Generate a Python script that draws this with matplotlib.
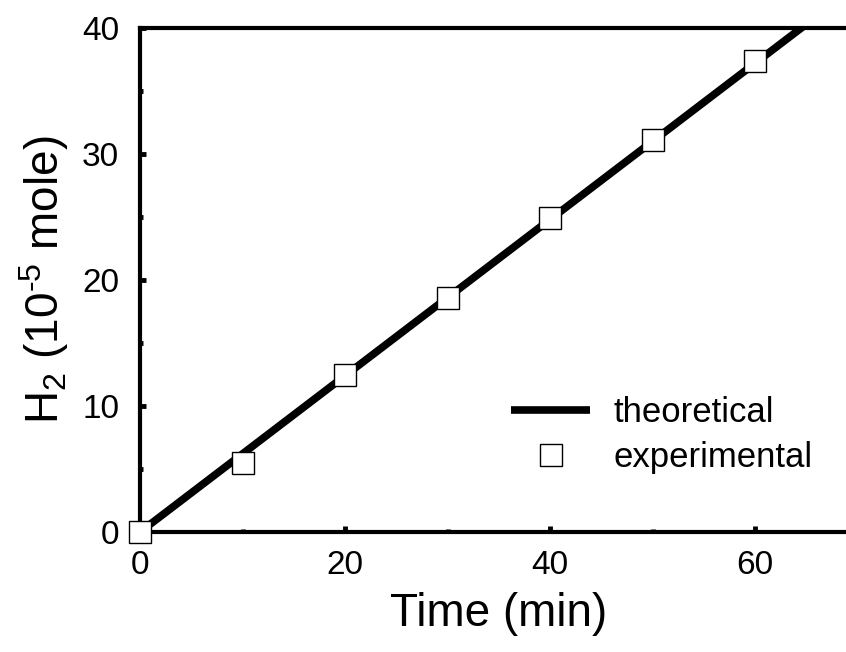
import matplotlib
matplotlib.use("Agg")
import matplotlib.pyplot as plt

time_exp = [0, 10, 20, 30, 40, 50, 60]
h2_exp = [0, 5.5, 12.5, 18.6, 24.9, 31.1, 37.4]

# theoretical straight line (slope ~0.62 per min)
time_theory = [0, 70]
h2_theory = [0, 43.4]

plt.rcParams["font.family"] = ["Liberation Sans", "DejaVu Sans"]
plt.rcParams["mathtext.fontset"] = "custom"
plt.rcParams["mathtext.rm"] = "Liberation Sans"
plt.rcParams["mathtext.default"] = "regular"

fig = plt.figure(figsize=(8.46, 6.52), dpi=100)
ax = fig.add_axes([140 / 846, 1 - 532 / 652, 717.5 / 846, 504 / 652])

ax.plot(time_theory, h2_theory, color="black", lw=5.5, label="theoretical",
        solid_capstyle="butt", zorder=2)
ax.plot(time_exp, h2_exp, ls="none", marker="s", ms=16, mfc="white",
        mec="black", mew=1.0, label="experimental", zorder=3, clip_on=False)

ax.set_xlim(0, 70)
ax.set_ylim(0, 40)
ax.set_xticks([0, 20, 40, 60])
ax.set_xticks([10, 30, 50], minor=True)
ax.set_yticks([0, 10, 20, 30, 40])
ax.set_yticks([5, 15, 25, 35], minor=True)

for side in ("left", "top", "bottom"):
    ax.spines[side].set_linewidth(3)
ax.spines["right"].set_visible(False)

ax.tick_params(which="both", direction="in", top=False, right=False,
               width=3.5, labelsize=24)
ax.tick_params(which="major", length=4.5)
ax.tick_params(which="minor", length=2.5)
ax.tick_params(axis="x", which="both", pad=13)
ax.tick_params(axis="y", which="both", pad=15)

ax.set_xlabel("Time (min)", fontsize=33, labelpad=8)
ax.set_ylabel(r"H$_2$ (10$^{\text{-}5}$ mole)", fontsize=33, labelpad=8)

ax.legend(loc="upper left", bbox_to_anchor=(511 / 846, 1 - 396 / 652),
          bbox_transform=fig.transFigure, frameon=False, fontsize=25,
          borderpad=0, borderaxespad=0, handlelength=2.28, handletextpad=0.66,
          labelspacing=0.35)

fig.savefig("out.png", dpi=100)
